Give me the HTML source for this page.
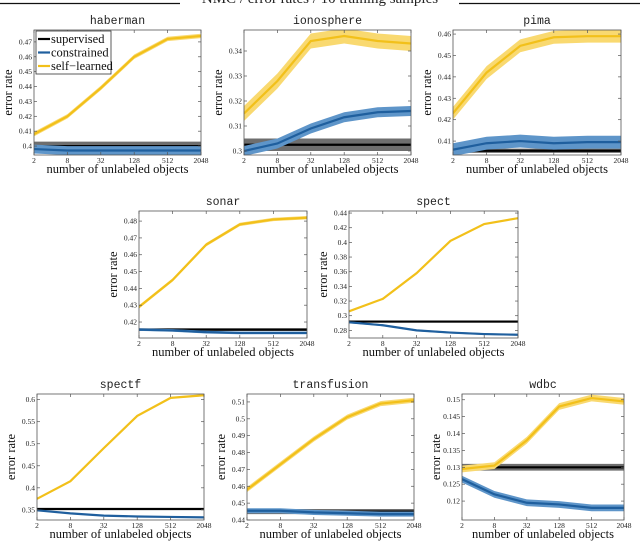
<!DOCTYPE html>
<html><head><meta charset="utf-8">
<style>
html,body{margin:0;padding:0;background:#fff;}
svg{display:block;}
.tk{font-family:"Liberation Serif",serif;font-size:7.5px;fill:#222;}
.ax{font-family:"Liberation Serif",serif;font-size:12.5px;fill:#111;}
.tt{font-family:"Liberation Mono",monospace;font-size:11.5px;fill:#222;}
</style></head>
<body>
<svg id="fig" width="640" height="541" viewBox="0 0 640 541" xmlns="http://www.w3.org/2000/svg">
<line x1="0" y1="3.5" x2="180" y2="3.5" stroke="#111" stroke-width="1.2"/>
<line x1="459" y1="3.5" x2="640" y2="3.5" stroke="#111" stroke-width="1.2"/>
<text x="320" y="3" text-anchor="middle" font-family="Liberation Serif,serif" font-size="15" fill="#222">NMC / error rates / 10 training samples</text>
</svg>
<script>
const xCats = [2, 8, 32, 128, 512, 2048];
const xTickLabels = ["2","8","32","128","512","2048"];
const seriesNames = ["supervised","constrained","self\u2212learned"];

const names = ["haberman","ionosphere","pima","sonar","spect","spectf","transfusion","wdbc"];
const supervised = [0.400, 0.3025, 0.4055, 0.4155, 0.292, 0.352, 0.445, 0.130];
const supervisedBand = [0.003, 0.0025, 0.001, 0.0008, 0.0015, 0.002, 0.0015, 0.001];
const habermanConstrained = [0.398, 0.397, 0.397, 0.397, 0.397, 0.397];
const habermanSelf = [0.408, 0.420, 0.439, 0.460, 0.472, 0.474];
const ionosphereConstrained = [0.300, 0.303, 0.309, 0.3135, 0.3155, 0.316];
const ionosphereSelf = [0.315, 0.328, 0.344, 0.346, 0.344, 0.343];
const pimaConstrained = [0.406, 0.409, 0.410, 0.409, 0.4095, 0.4095];
const pimaSelf = [0.423, 0.442, 0.4545, 0.4585, 0.459, 0.459];
const sonarConstrained = [0.4155, 0.415, 0.414, 0.4135, 0.4135, 0.4135];
const sonarSelf = [0.429, 0.445, 0.466, 0.478, 0.481, 0.482];
const spectConstrained = [0.291, 0.287, 0.280, 0.277, 0.275, 0.274];
const spectSelf = [0.306, 0.323, 0.358, 0.402, 0.425, 0.433];
const spectfConstrained = [0.349, 0.342, 0.337, 0.335, 0.334, 0.333];
const spectfSelf = [0.375, 0.415, 0.490, 0.563, 0.604, 0.610];
const transfusionConstrained = [0.4455, 0.4455, 0.4445, 0.444, 0.4435, 0.4435];
const transfusionSelf = [0.458, 0.473, 0.488, 0.501, 0.509, 0.511];
const wdbcConstrained = [0.1265, 0.122, 0.1195, 0.119, 0.118, 0.118];
const wdbcSelf = [0.1295, 0.1305, 0.138, 0.148, 0.1505, 0.1495];
const constrainedBand = [0.003, 0.002, 0.003, 0.0008, 0.0012, 0.0012, 0.0015, 0.001];
const selfBand = [0.0015, 0.003, 0.003, 0.001, 0.001, 0.002, 0.0015, 0.001];

const habermanTicks = [0.40,0.41,0.42,0.43,0.44,0.45,0.46,0.47];
const ionosphereTicks = [0.30,0.31,0.32,0.33,0.34];
const pimaTicks = [0.41,0.42,0.43,0.44,0.45,0.46];
const sonarTicks = [0.42,0.43,0.44,0.45,0.46,0.47,0.48];
const spectTicks = [0.28,0.30,0.32,0.34,0.36,0.38,0.40,0.42,0.44];
const spectfTicks = [0.35,0.40,0.45,0.50,0.55,0.60];
const transfusionTicks = [0.44,0.45,0.46,0.47,0.48,0.49,0.50,0.51];
const wdbcTicks = [0.12,0.125,0.13,0.135,0.14,0.145,0.15];

const panels = [
 {x0:34,x1:201,y0:30,y1:155,ymin:0.394,ymax:0.478,con:habermanConstrained,self:habermanSelf,ticks:habermanTicks,legend:true},
 {x0:244,x1:411,y0:30,y1:155,ymin:0.2984,ymax:0.3484,con:ionosphereConstrained,self:ionosphereSelf,ticks:ionosphereTicks},
 {x0:453,x1:621,y0:30,y1:155,ymin:0.4035,ymax:0.4619,con:pimaConstrained,self:pimaSelf,ticks:pimaTicks},
 {x0:139,x1:307,y0:211,y1:338,ymin:0.4105,ymax:0.486,con:sonarConstrained,self:sonarSelf,ticks:sonarTicks},
 {x0:349,x1:518,y0:211,y1:338,ymin:0.2696,ymax:0.4428,con:spectConstrained,self:spectSelf,ticks:spectTicks},
 {x0:37,x1:204,y0:394,y1:520,ymin:0.327,ymax:0.6128,con:spectfConstrained,self:spectfSelf,ticks:spectfTicks},
 {x0:247,x1:414,y0:394,y1:520,ymin:0.44,ymax:0.5147,con:transfusionConstrained,self:transfusionSelf,ticks:transfusionTicks},
 {x0:462,x1:624,y0:394,y1:520,ymin:0.1144,ymax:0.1517,con:wdbcConstrained,self:wdbcSelf,ticks:wdbcTicks}
];
const NS="http://www.w3.org/2000/svg";
const fig=document.getElementById('fig');
function mk(tag,attrs,parent){const e=document.createElementNS(NS,tag);for(const k in attrs)e.setAttribute(k,attrs[k]);(parent||fig).appendChild(e);return e;}
function fmt(v){let s=(+v.toFixed(3)).toString();return s;}

panels.forEach((p,i)=>{
  const g=mk('g',{});
  
  
  const lx=Math.log2(xCats[0]), hx=Math.log2(xCats[xCats.length-1]);
  const sx=v=>p.x0+(Math.log2(v)-lx)/(hx-lx)*(p.x1-p.x0);
  const sy=v=>p.y1-(v-p.ymin)/(p.ymax-p.ymin)*(p.y1-p.y0);
  const clip='c'+i;
  const cp=mk('clipPath',{id:clip},g);mk('rect',{x:p.x0,y:p.y0,width:p.x1-p.x0,height:p.y1-p.y0},cp);
  const pg=mk('g',{'clip-path':'url(#'+clip+')'},g);
  function series(vals,band,fill,stroke,nm){
    const top=vals.map((v,j)=>sx(xCats[j])+','+sy(v+band)).join(' ');
    const bot=vals.map((v,j)=>sx(xCats[j])+','+sy(v-band)).reverse().join(' ');
    const b=mk('polygon',{points:top+' '+bot,fill:fill},pg);
    
    
    const l=mk('polyline',{points:vals.map((v,j)=>sx(xCats[j])+','+sy(v)).join(' '),fill:'none',stroke:stroke,'stroke-width':2.2},pg);
    
    
  }
  const sup=xCats.map(()=>supervised[i]);
  series(sup,supervisedBand[i],'#6e6e6e','#000','supervised');
  series(p.con,constrainedBand[i],'#5e95c9','#1f5f9e','constrained');
  series(p.self,selfBand[i],'#f9d970','#f2c01a','self-learned');
  const box=mk('rect',{x:p.x0,y:p.y0,width:p.x1-p.x0,height:p.y1-p.y0,fill:'none',stroke:'#555','stroke-width':0.8},g);
  
  
  p.ticks.forEach(t=>{
    const y=sy(t);
    mk('line',{x1:p.x0,y1:y,x2:p.x0+3,y2:y,stroke:'#555','stroke-width':0.7},g);
    mk('line',{x1:p.x1,y1:y,x2:p.x1-3,y2:y,stroke:'#555','stroke-width':0.7},g);
    const tx=mk('text',{x:p.x0-2,y:y+2.5,'text-anchor':'end',class:'tk'},g);tx.textContent=fmt(t);
    
    
  });
  xCats.forEach((c,j)=>{
    const x=sx(c);
    mk('line',{x1:x,y1:p.y1,x2:x,y2:p.y1-3,stroke:'#555','stroke-width':0.7},g);
    mk('line',{x1:x,y1:p.y0,x2:x,y2:p.y0+3,stroke:'#555','stroke-width':0.7},g);
    const tx=mk('text',{x:x,y:p.y1+8,'text-anchor':'middle',class:'tk'},g);tx.textContent=xTickLabels[j];
    
    
  });
  const cx=(p.x0+p.x1)/2;
  const xt=mk('text',{x:cx,y:p.y1+18,'text-anchor':'middle',class:'ax'},g);xt.textContent='number of unlabeled objects';
  
  
  const yt=mk('text',{x:0,y:0,'text-anchor':'middle',class:'ax',transform:'translate('+(p.x0-22)+','+((p.y0+p.y1)/2)+') rotate(-90)'},g);yt.textContent='error rate';
  
  
  const tt=mk('text',{x:cx,y:p.y0-6,'text-anchor':'middle',class:'tt'},g);tt.textContent=names[i];
  
  
  if(p.legend){
    const lg=mk('g',{},g);
    
    
    mk('rect',{x:36,y:31,width:75,height:43,fill:'#fff',stroke:'#333','stroke-width':0.8},lg);
    const cols=['#000','#1f5f9e','#f2c01a'];
    seriesNames.forEach((n,k)=>{
      const y=39+k*13.5;
      const e=mk('g',{},lg);
      
      
      mk('line',{x1:38,y1:y,x2:50,y2:y,stroke:cols[k],'stroke-width':2.2},e);
      const t=mk('text',{x:51,y:y+4,class:'ax','font-size':'11.5'},e);t.textContent=n;
    });
  }
});
</script>
</body></html>
